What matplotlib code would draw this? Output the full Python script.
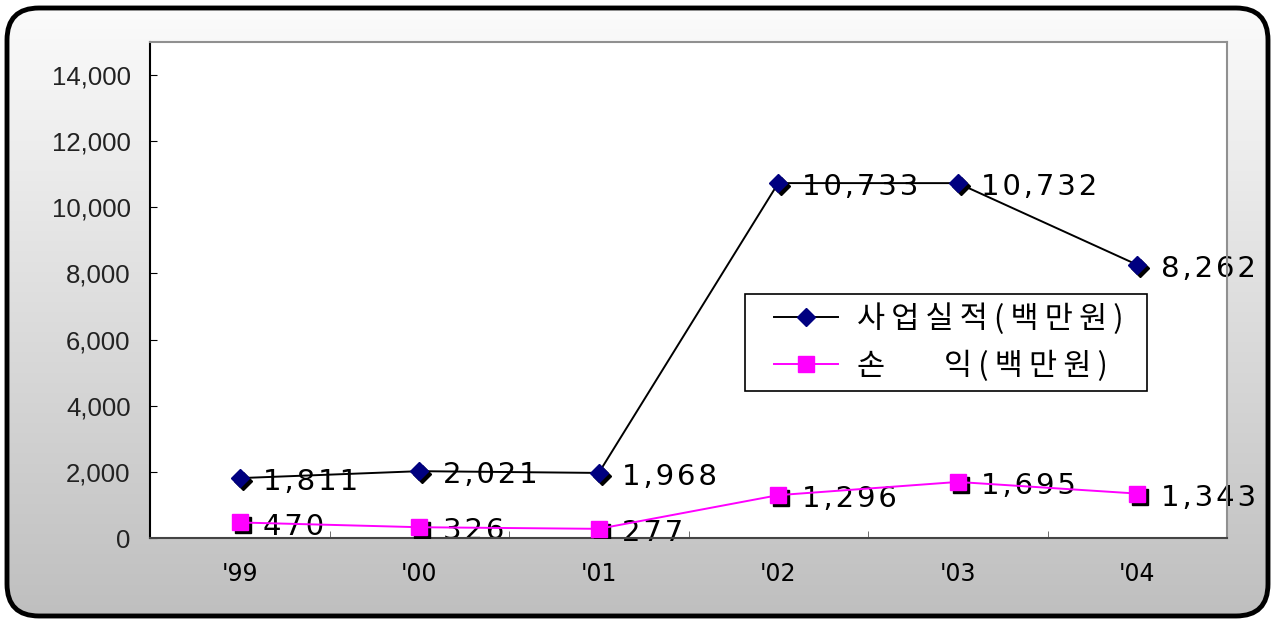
import numpy as np
import matplotlib.pyplot as plt
from matplotlib.patches import FancyBboxPatch
from matplotlib.transforms import offset_copy
from matplotlib.lines import Line2D
from matplotlib.legend_handler import HandlerLine2D

# 연도 / 값
years = ["'99", "'00", "'01", "'02", "'03", "'04"]
sales = [1811, 2021, 1968, 10733, 10732, 8262]
profit = [470, 326, 277, 1296, 1695, 1343]
sales_name = "사업실적(백만원)"
profit_name = "손     익(백만원)"

fig = plt.figure(figsize=(12.76, 6.23), dpi=100)

# 배경 (둥근 테두리 + 그라데이션)
bg = fig.add_axes([0, 0, 1, 1])
bg.set_xlim(0, 1276)
bg.set_ylim(623, 0)
bg.axis('off')
grad = np.linspace(0, 1, 256).reshape(-1, 1)
img = bg.imshow(grad, cmap=plt.cm.colors.LinearSegmentedColormap.from_list('g', ['#fbfbfb', '#bfbfbf']),
                extent=[7, 1268, 616, 8], aspect='auto')
box = FancyBboxPatch((7, 8), 1261, 608, boxstyle="round,pad=0,rounding_size=32",
                     facecolor='none', edgecolor='black', linewidth=3.5)
bg.add_patch(box)
img.set_clip_path(box)

ax = fig.add_axes([150 / 1276, 1 - 538 / 623, (1227 - 150) / 1276, (538 - 42) / 623])
ax.set_facecolor('white')
x = np.arange(len(years))

# 그림자 마커
shadow = offset_copy(ax.transData, fig=fig, x=3, y=-3, units='dots')
ax.plot(x, sales, linestyle='none', marker='D', markersize=9, color='black', transform=shadow, zorder=3)
ax.plot(x, profit, linestyle='none', marker='s', markersize=11, color='black', transform=shadow, zorder=3)

ax.plot(x, sales, color='black', linewidth=1.4, marker='D', markersize=9,
        markerfacecolor='#000080', markeredgecolor='#000080', label=sales_name, zorder=4)
ax.plot(x, profit, color='#ff00ff', linewidth=1.4, marker='s', markersize=11,
        markerfacecolor='#ff00ff', markeredgecolor='#ff00ff', label=profit_name, zorder=4)

def spaced(v):
    return '\u200a'.join(f"{v:,}")

for xi, v in zip(x, sales):
    ax.annotate(spaced(v), (xi, v), xytext=(17, -3), textcoords='offset points',
                ha='left', va='center', fontsize=21, family='DejaVu Sans', clip_on=False, zorder=2)
for xi, v in zip(x, profit):
    ax.annotate(spaced(v), (xi, v), xytext=(17, -3), textcoords='offset points',
                ha='left', va='center', fontsize=21, family='DejaVu Sans', clip_on=False, zorder=2)

ax.set_xlim(-0.5, len(years) - 0.5)
ax.set_ylim(0, 15000)
ax.set_yticks(range(0, 15000, 2000))
ax.set_yticklabels([f"{t:,}" for t in range(0, 15000, 2000)], fontsize=18.5,
                   family='Liberation Sans', color='#222222')
ax.set_xticks(x)
ax.set_xticklabels(years, fontsize=17, family='DejaVu Sans')
ax.set_xticks(np.arange(len(years) + 1) - 0.5, minor=True)
ax.tick_params(axis='x', which='major', length=0, pad=17)
ax.tick_params(axis='x', which='minor', direction='in', length=5, color='#555555')
ax.tick_params(axis='y', direction='in', length=5, pad=14)

ax.spines['left'].set_color('black')
ax.spines['bottom'].set_color('#444444')
ax.spines['top'].set_color('#909090')
ax.spines['right'].set_color('#909090')
for s in ax.spines.values():
    s.set_linewidth(1.5)

leg = ax.legend(loc='center', bbox_to_anchor=(745 / 1276, 1 - 392 / 623, 402 / 1276, 99 / 623),
                bbox_transform=fig.transFigure, mode='expand', fancybox=False, framealpha=1,
                edgecolor='black', prop={'family': ['Noto Sans CJK KR', 'DejaVu Sans'], 'size': 22},
                handlelength=2.73, handletextpad=0.62, labelspacing=0.5, borderpad=0.3,
                borderaxespad=0, handler_map={Line2D: HandlerLine2D(xpad=0.64)})
leg.get_frame().set_linewidth(1.2)
# 글자 간격 넓히기
for t in leg.get_texts():
    s = t.get_text()
    out = ''
    for i, c in enumerate(s):
        out += c
        if i < len(s) - 1 and (c == ' ') == (s[i + 1] == ' '):
            out += '\u2009'
    t.set_text(out)

plt.savefig('out.png', dpi=100)
